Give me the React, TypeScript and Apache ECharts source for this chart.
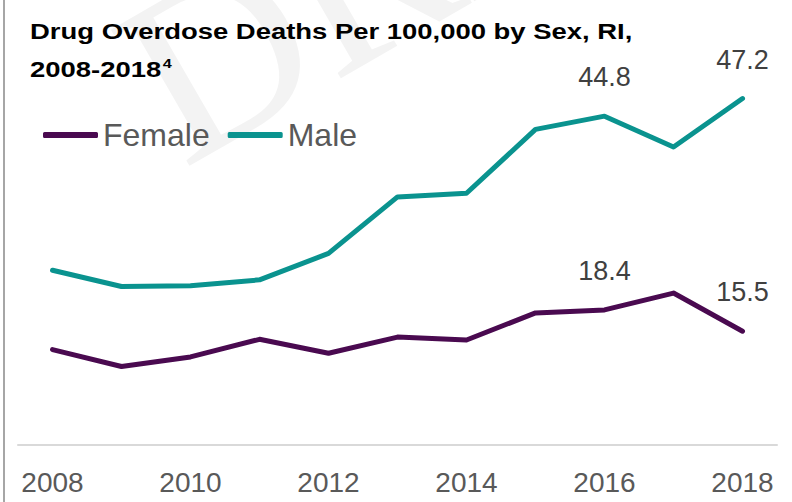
import React, { useEffect, useRef } from "react";
import * as echarts from "echarts";

const years = ["2008", "2009", "2010", "2011", "2012", "2013", "2014", "2015", "2016", "2017", "2018"];
const female = [13.0, 10.7, 12.0, 14.4, 12.5, 14.7, 14.3, 18.0, 18.4, 20.7, 15.5];
const male = [23.8, 21.6, 21.7, 22.5, 26.1, 33.8, 34.3, 43.0, 44.8, 40.6, 47.2];
const labelledYears = ["2016", "2018"];
const titleLine1 = "Drug Overdose Deaths Per 100,000 by Sex, RI,";
const titleLine2 = "2008-2018";
const titleSup = "4";

const FONT = "Liberation Sans";

function withLabels(values: number[]) {
  return values.map((v, i) => ({
    value: v,
    label: { show: labelledYears.includes(years[i]) },
  }));
}

function measure(text: string, font: string) {
  const c = document.createElement("canvas").getContext("2d");
  if (!c) return text.length * 12;
  c.font = font;
  return c.measureText(text).width;
}

export default function App() {
  const ref = useRef<HTMLDivElement>(null);
  useEffect(() => {
    if (!ref.current) return;
    const chart = echarts.init(ref.current, undefined, { renderer: "svg" });
    const titleFont = `bold 22px "${FONT}"`;
    const w1 = measure(titleLine1, titleFont);
    const w2 = measure(titleLine2, titleFont);
    const sx = 603 / w1;
    const labelStyle = {
      position: "top" as const,
      distance: 25,
      fontSize: 27,
      fontFamily: FONT,
      color: "#404040",
    };
    chart.setOption({
      animation: false,
      backgroundColor: "#ffffff",
      legend: {
        left: 43,
        top: 119,
        icon: "roundRect",
        itemWidth: 55,
        itemHeight: 6,
        itemGap: 18,
        padding: 0,
        textStyle: { fontFamily: FONT, fontSize: 32, color: "#595959" },
        data: ["Female", "Male"],
      },
      graphic: [
        {
          type: "text",
          x: 203,
          y: 203,
          rotation: Math.PI / 6,
          z: -10,
          silent: true,
          style: {
            text: "DRAFT",
            font: '240px "Liberation Serif"',
            fill: "#f3f3f3",
            textVerticalAlign: "bottom",
          },
        },
        {
          type: "text",
          x: 30,
          y: 31,
          scaleX: sx,
          style: {
            text: titleLine1,
            font: titleFont,
            fill: "#000000",
            textVerticalAlign: "middle",
          },
        },
        {
          type: "text",
          x: 30,
          y: 69,
          scaleX: sx,
          style: {
            text: titleLine2,
            font: titleFont,
            fill: "#000000",
            textVerticalAlign: "middle",
          },
        },
        {
          type: "text",
          x: 30 + w2 * sx + 1.5,
          y: 64,
          scaleX: sx,
          style: {
            text: titleSup,
            font: `bold 13px "${FONT}"`,
            fill: "#000000",
            textVerticalAlign: "middle",
          },
        },
        {
          type: "rect",
          left: 3,
          top: 0,
          shape: { width: 2, height: 502 },
          style: { fill: "#a6a6a6" },
        },
      ],
      grid: { left: 18, right: 15, top: 78, bottom: 57 },
      xAxis: {
        type: "category",
        data: years,
        boundaryGap: true,
        axisLine: { lineStyle: { color: "#d9d9d9", width: 2 } },
        axisTick: { show: false },
        axisLabel: {
          interval: 1,
          margin: 23,
          fontSize: 28,
          fontFamily: FONT,
          color: "#595959",
        },
      },
      yAxis: {
        type: "value",
        min: 0,
        max: 50,
        show: false,
        splitLine: { show: false },
      },
      series: [
        {
          name: "Female",
          type: "line",
          data: withLabels(female),
          symbol: "circle",
          symbolSize: 1,
          showSymbol: true,
          color: "#4a0a50",
          lineStyle: { width: 5, color: "#4a0a50", cap: "round", join: "round" },
          label: labelStyle,
          z: 3,
        },
        {
          name: "Male",
          type: "line",
          data: withLabels(male),
          symbol: "circle",
          symbolSize: 1,
          showSymbol: true,
          color: "#0a938f",
          lineStyle: { width: 5, color: "#0a938f", cap: "round", join: "round" },
          label: labelStyle,
          z: 3,
        },
      ],
    });
    return () => chart.dispose();
  }, []);
  return (
    <div
      ref={ref}
      style={{ position: "fixed", left: 0, top: 0, width: 792, height: 502 }}
    />
  );
}
